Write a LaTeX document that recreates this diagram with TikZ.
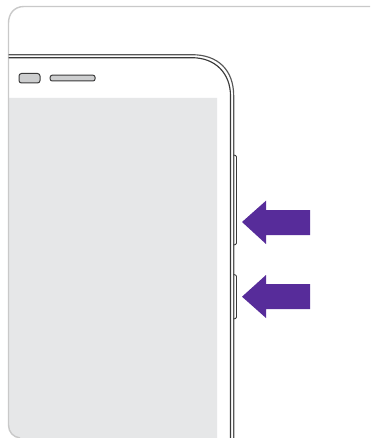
\documentclass[tikz,border=0pt]{standalone}
\definecolor{screengray}{HTML}{E6E7E8}
\definecolor{framegray}{HTML}{C9C9C9}
\definecolor{purplearrow}{HTML}{572C9A}
\definecolor{phoneline}{HTML}{3A3A3A}
\definecolor{partfill}{HTML}{CDCECF}
\tikzset{
  phoneedge/.style={draw=phoneline,line width=1.15pt},
  partbox/.style={draw=phoneline,fill=partfill,line width=1pt},
  sidebutton/.style={draw=phoneline,fill=white,line width=0.9pt,rounded corners=1pt},
  pointer/.style={fill=purplearrow,draw=none}
}
\begin{document}
\begin{tikzpicture}[x=1pt,y=-1pt]
\useasboundingbox (0,0) rectangle (374,438);
\fill[white] (0,0) rectangle (374,438);
% screen
\fill[screengray] (8.5,98) -- (217,98) -- (217,438) -- (20,438)
  .. controls (13,438) and (8.5,432) .. (8.5,425) -- cycle;
% outer frame
\draw[framegray,line width=1.4pt] (370,6.5) -- (24,6.5)
  .. controls (14,6.5) and (8.5,14) .. (8.5,23) -- (8.5,425)
  .. controls (8.5,432) and (13,437) .. (20,438);
% side buttons
\draw[sidebutton] (233.5,155) -- (236.5,155.8) -- (236.5,244.2) -- (233.5,245);
\draw[sidebutton] (233.5,274.5) -- (236.5,275.3) -- (236.5,318.2) -- (233.5,319);
% phone body
\draw[phoneedge,draw opacity=.85] (8.5,54.7) -- (192,54.7)
  .. controls (218,54.7) and (233.7,70) .. (233.7,96) -- (233.7,438);
\draw[phoneedge] (8.5,57.7) -- (192,57.7)
  .. controls (215,57.7) and (230.5,73) .. (230.5,96) -- (230.5,438);
% camera and speaker
\draw[partbox,rounded corners=2.5pt] (19,73.5) rectangle (40,83);
\draw[partbox,rounded corners=2pt] (50.2,75.2) rectangle (95,81);
% arrows
\fill[pointer] (242,222) -- (266,200.7) -- (266,210) -- (310,210) -- (310,235) -- (266,235) -- (266,244) -- cycle;
\fill[pointer] (242,296.7) -- (266,275) -- (266,284) -- (310,284) -- (310,309) -- (266,309) -- (266,318) -- cycle;
\end{tikzpicture}
\end{document}
